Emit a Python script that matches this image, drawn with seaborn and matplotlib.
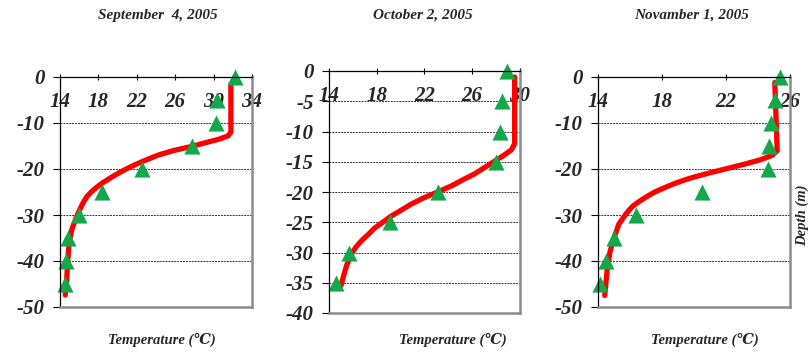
import matplotlib
matplotlib.use('Agg')
import matplotlib.pyplot as plt
import seaborn as sns
import pandas as pd

sns.set_style('white')
plt.rcParams['font.family'] = ['Liberation Serif', 'DejaVu Serif']

titles = ['September  4, 2005', 'October 2, 2005', 'Novamber 1, 2005']
x_label = 'Temperature (\u2103)'
y_label = 'Depth (m)'

# Observed points (triangles)
sep_depth = [0, -5, -10, -15, -20, -25, -30, -35, -40, -45]
sep_temp = [32.2, 30.4, 30.2, 27.8, 22.5, 18.4, 16.0, 14.85, 14.65, 14.5]
oct_depth = [0, -5, -10, -15, -20, -25, -30, -35]
oct_temp = [28.9, 28.5, 28.35, 28.0, 23.1, 19.1, 15.7, 14.55]
nov_depth = [0, -5, -10, -15, -20, -25, -30, -35, -40, -45]
nov_temp = [25.4, 25.05, 24.8, 24.7, 24.6, 20.5, 16.4, 15.0, 14.5, 14.15]

# Fitted profile (red curve)
sep_fit_depth = [-1.5, -12.0, -12.8, -13.5, -14.2, -15.0, -16.0, -17.0, -18.0, -19.0,
                 -20.0, -21.0, -22.0, -23.0, -24.0, -25.0, -26.0, -27.0, -28.0, -30.0,
                 -33.0, -36.0, -40.0, -44.0, -47.4]
sep_fit_temp = [31.8, 31.8, 31.5, 30.6, 29.3, 27.9, 25.8, 24.2, 23.0, 21.9,
                20.9, 20.0, 19.2, 18.45, 17.8, 17.25, 16.8, 16.5, 16.25, 15.8,
                15.25, 14.95, 14.8, 14.7, 14.55]
oct_fit_depth = [-1.0, -12.0, -13.0, -14.0, -15.0, -16.0, -17.0, -18.0, -19.0, -20.0,
                 -21.0, -22.0, -23.0, -24.0, -25.0, -26.0, -27.0, -28.0, -29.0, -30.0,
                 -32.0, -34.0, -35.5]
oct_fit_temp = [29.55, 29.55, 29.3, 28.6, 27.8, 27.0, 26.2, 25.2, 24.25, 23.1,
                21.9, 20.9, 20.05, 19.2, 18.5, 17.8, 17.3, 16.75, 16.3, 15.95,
                15.5, 15.2, 15.0]
nov_fit_depth = [-1.2, -16.0, -17.0, -18.0, -19.0, -20.0, -21.0, -22.0, -23.0, -24.0,
                 -25.0, -26.0, -27.0, -28.0, -29.0, -30.0, -32.0, -35.0, -38.0, -42.0, -47.5]
nov_fit_temp = [25.05, 25.2, 24.9, 24.15, 23.1, 21.95, 20.8, 19.75, 18.9, 18.2,
                17.55, 17.05, 16.6, 16.2, 15.93, 15.7, 15.3, 15.0, 14.75, 14.57, 14.42]

x_ticks = [[14, 18, 22, 26, 30, 34], [14, 18, 22, 26, 30], [14, 18, 22, 26]]
y_ticks = [[0, -10, -20, -30, -40, -50], [0, -5, -10, -15, -20, -25, -30, -35, -40],
           [0, -10, -20, -30, -40, -50]]

points = [(sep_temp, sep_depth), (oct_temp, oct_depth), (nov_temp, nov_depth)]
fits = [(sep_fit_temp, sep_fit_depth), (oct_fit_temp, oct_fit_depth), (nov_fit_temp, nov_fit_depth)]

fig = plt.figure(figsize=(8.11, 3.52), dpi=100)
W, H = 811, 352
boxes = [(60, 77, 252, 307), (329, 71, 520, 313), (598, 77, 790, 307)]
title_x = [158, 423, 692]
xlabel_x = [162, 453, 705]

bi = dict(fontweight='bold', fontstyle='italic')

for i in range(3):
    l, t, r, b = boxes[i]
    ax = fig.add_axes([l / W, 1 - b / H, (r - l) / W, (b - t) / H])
    fdf = pd.DataFrame({'temp': fits[i][0], 'depth': fits[i][1]})
    pdf = pd.DataFrame({'temp': points[i][0], 'depth': points[i][1]})
    sns.lineplot(data=fdf, x='temp', y='depth', sort=False, estimator=None,
                 color='#ff0000', linewidth=3.8, ax=ax, zorder=1.5,
                 solid_capstyle='round', solid_joinstyle='round')
    sns.scatterplot(data=pdf, x='temp', y='depth', marker='^', s=135,
                    color='#14a84b', linewidth=0, ax=ax, zorder=2, clip_on=False)
    xt, yt = x_ticks[i], y_ticks[i]
    ax.set_xlim(xt[0], xt[-1])
    ax.set_ylim(yt[-1], yt[0])
    ax.set_xticks(xt)
    ax.set_yticks(yt)
    ax.set_xticklabels([str(v) for v in xt], fontsize=15, **bi)
    ax.set_yticklabels([str(v) for v in yt], fontsize=15, **bi)
    ax.xaxis.tick_top()
    ax.tick_params(axis='x', top=True, bottom=False, labeltop=True, labelbottom=False,
                   direction='inout', length=4, width=0.8, color='black', pad=-27)
    ax.tick_params(axis='y', left=True, direction='out', length=5, width=0.8,
                   color='black', pad=6)
    ax.set_xlabel('')
    ax.set_ylabel('')
    ax.yaxis.grid(True, linestyle=(0, (2, 1)), color='#333333', linewidth=0.7)
    ax.xaxis.grid(False)
    for s in ['top', 'left']:
        ax.spines[s].set_color('black')
        ax.spines[s].set_linewidth(0.9)
    for s in ['right', 'bottom']:
        ax.spines[s].set_color('#8c8c8c')
        ax.spines[s].set_linewidth(1.8)
    for s in ax.spines.values():
        s.set_visible(True)
    fig.text(title_x[i] / W, 1 - 15 / H, titles[i], ha='center', va='center',
             fontsize=11, **bi)
    fig.text(xlabel_x[i] / W, 1 - 340 / H, x_label, ha='center', va='center',
             fontsize=10.5, **bi)

fig.text(802 / W, 1 - 215 / H, y_label, rotation=90, ha='center', va='center',
         fontsize=10.5, **bi)

fig.savefig('out.png', dpi=100)
